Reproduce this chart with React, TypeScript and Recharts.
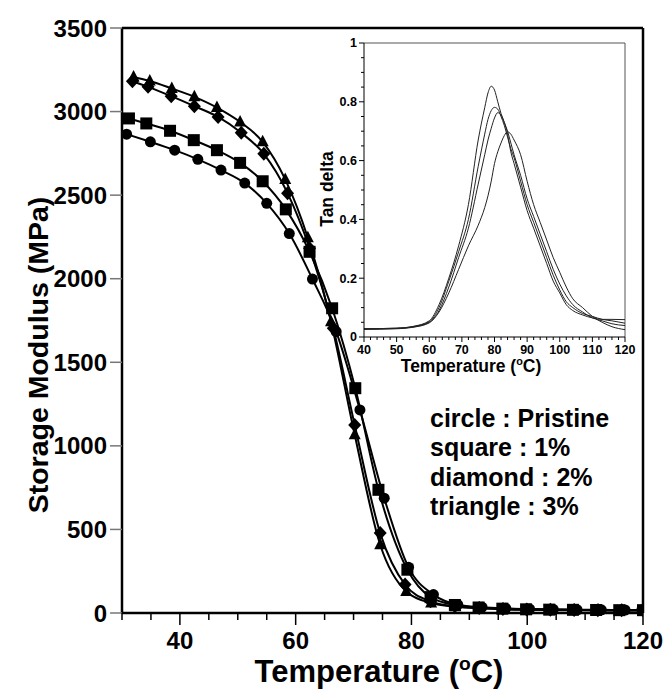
import { LineChart, Line, XAxis, YAxis, ReferenceLine } from "recharts";

// storage modulus, one array pair per sample (temperature in C, modulus in MPa)
const circleT = [30.8, 34.9, 39.1, 43.1, 47.1, 51.2, 55.0, 58.9, 62.9, 67.0, 71.1, 75.3, 79.5, 83.8, 88.0, 92.2, 96.3, 100.4, 104.5, 108.6, 112.8, 116.9, 119.8];
const circleV = [2865, 2819, 2769, 2714, 2650, 2572, 2451, 2270, 1998, 1683, 1215, 687, 273, 110, 50, 35, 28, 24, 22, 20, 19, 18, 18];

const squareT = [31.2, 34.2, 38.3, 42.4, 46.4, 50.4, 54.3, 58.3, 62.4, 66.3, 70.3, 74.3, 79.3, 83.3, 87.5, 91.6, 95.7, 99.8, 103.8, 107.9, 111.9, 115.9, 120];
const squareV = [2959, 2929, 2885, 2829, 2769, 2693, 2583, 2415, 2161, 1823, 1345, 737, 259, 95, 48, 33, 26, 22, 20, 19, 18, 17, 17];

const diamondT = [31.8, 34.5, 38.5, 42.5, 46.6, 50.6, 54.5, 58.6, 62.4, 66.5, 70.2, 74.6, 78.9, 83.3, 87.5, 91.7, 95.8, 99.9, 104.0, 108.1, 112.2, 116.3, 120];
const diamondV = [3181, 3148, 3092, 3032, 2968, 2873, 2747, 2512, 2183, 1703, 1125, 478, 170, 70, 40, 30, 24, 21, 19, 18, 17, 17, 16];

const triangleT = [32.0, 34.8, 38.6, 42.5, 46.4, 50.4, 54.3, 58.2, 62.1, 66.1, 70.2, 74.6, 79.1, 83.4, 87.6, 91.8, 95.9, 100.0, 104.1, 108.2, 112.3, 116.4, 120];
const triangleV = [3207, 3183, 3138, 3088, 3024, 2938, 2819, 2594, 2245, 1743, 1066, 408, 129, 60, 38, 28, 22, 19, 17, 16, 16, 15, 15];

const mainXTicks = [30, 35, 40, 45, 50, 55, 60, 65, 70, 75, 80, 85, 90, 95, 100, 105, 110, 115, 120];
const mainYTicks = [0, 500, 1000, 1500, 2000, 2500, 3000, 3500];

// tan delta inset
const insetT = [40, 50, 55, 60, 63, 66, 69, 72, 75, 77, 78, 79, 80, 81, 82, 83, 84, 85, 86, 88, 90, 92, 94, 96, 98, 100, 102, 104, 107, 110, 113, 116, 120];
const tanA = [0.028, 0.030, 0.036, 0.055, 0.11, 0.20, 0.31, 0.45, 0.67, 0.78, 0.83, 0.853, 0.84, 0.80, 0.76, 0.73, 0.69, 0.63, 0.59, 0.51, 0.43, 0.37, 0.31, 0.25, 0.19, 0.15, 0.11, 0.09, 0.075, 0.065, 0.06, 0.06, 0.059];
const tanB = [0.028, 0.030, 0.035, 0.052, 0.10, 0.19, 0.29, 0.40, 0.58, 0.69, 0.74, 0.77, 0.781, 0.775, 0.75, 0.72, 0.68, 0.64, 0.61, 0.53, 0.45, 0.39, 0.33, 0.27, 0.21, 0.16, 0.12, 0.10, 0.08, 0.07, 0.06, 0.055, 0.047];
const tanC = [0.027, 0.029, 0.034, 0.050, 0.09, 0.17, 0.27, 0.37, 0.52, 0.62, 0.67, 0.71, 0.745, 0.763, 0.755, 0.73, 0.70, 0.66, 0.62, 0.55, 0.47, 0.41, 0.35, 0.29, 0.23, 0.18, 0.14, 0.11, 0.085, 0.065, 0.055, 0.045, 0.039];
const tanD = [0.026, 0.028, 0.033, 0.048, 0.085, 0.15, 0.23, 0.31, 0.38, 0.44, 0.48, 0.53, 0.59, 0.63, 0.66, 0.685, 0.698, 0.69, 0.67, 0.62, 0.53, 0.45, 0.39, 0.33, 0.27, 0.22, 0.17, 0.13, 0.10, 0.07, 0.05, 0.035, 0.025];

const insetXTicks = [40, 42, 44, 46, 48, 50, 52, 54, 56, 58, 60, 62, 64, 66, 68, 70, 72, 74, 76, 78, 80, 82, 84, 86, 88, 90, 92, 94, 96, 98, 100, 102, 104, 106, 108, 110, 112, 114, 116, 118, 120];
const insetYTicks = [0, 0.05, 0.1, 0.15, 0.2, 0.25, 0.3, 0.35, 0.4, 0.45, 0.5, 0.55, 0.6, 0.65, 0.7, 0.75, 0.8, 0.85, 0.9, 0.95, 1];

const legendLines = ["circle : Pristine", "square : 1%", "diamond : 2%", "triangle : 3%"];

const FONT = "'Liberation Sans', Arial, sans-serif";

// merge series into one table keyed by temperature
const seriesList: [string, number[], number[]][] = [
  ["circle", circleT, circleV],
  ["square", squareT, squareV],
  ["diamond", diamondT, diamondV],
  ["triangle", triangleT, triangleV],
];
const mainData = (() => {
  const rows: any[] = [];
  seriesList.forEach(([key, ts, vs]) => {
    ts.forEach((t, i) => rows.push({ t, [key]: vs[i] }));
  });
  return rows.sort((a, b) => a.t - b.t);
})();

const insetData = insetT.map((t, i) => ({ t, a: tanA[i], b: tanB[i], c: tanC[i], d: tanD[i] }));

const makeDot = (shape: string) => (props: any) => {
  const { cx, cy, index } = props;
  if (cx == null || cy == null || props.value == null) return <g key={index} />;
  if (shape === "circle") return <circle key={index} cx={cx} cy={cy} r={5.5} fill="#000" />;
  if (shape === "square") return <rect key={index} x={cx - 6} y={cy - 6} width={12} height={12} fill="#000" />;
  if (shape === "diamond")
    return <polygon key={index} points={`${cx},${cy - 7} ${cx + 6.5},${cy} ${cx},${cy + 7} ${cx - 6.5},${cy}`} fill="#000" />;
  return <polygon key={index} points={`${cx},${cy - 7} ${cx + 6},${cy + 4.5} ${cx - 6},${cy + 4.5}`} fill="#000" />;
};

const MainXTick = (props: any) => {
  const { x, y, payload } = props;
  const major = payload.value % 20 === 0;
  return (
    <g>
      <line x1={x} x2={x} y1={y} y2={y + (major ? 12 : 7)} stroke="#000" strokeWidth={1.5} />
      {major && (
        <text x={x} y={y + 36} textAnchor="middle" fontSize={24} fontWeight="bold" fill="#000">
          {payload.value}
        </text>
      )}
    </g>
  );
};

const InsetXTick = (props: any) => {
  const { x, y, payload } = props;
  const major = payload.value % 10 === 0;
  return (
    <g>
      <line x1={x} x2={x} y1={y} y2={y + (major ? 5 : 3)} stroke="#000" strokeWidth={1} />
      {major && (
        <text x={x} y={y + 17} textAnchor="middle" fontSize={12.5} fontWeight="bold" fill="#000">
          {payload.value}
        </text>
      )}
    </g>
  );
};

const InsetYTick = (props: any) => {
  const { x, y, payload } = props;
  const major = Math.round(payload.value * 100) % 20 === 0;
  return (
    <g>
      <line x1={x - (major ? 5 : 3)} x2={x} y1={y} y2={y} stroke="#000" strokeWidth={1} />
      {major && (
        <text x={x - 7} y={y} dy="0.35em" textAnchor="end" fontSize={12.5} fontWeight="bold" fill="#000">
          {Math.round(payload.value * 10) / 10}
        </text>
      )}
    </g>
  );
};

const tempTitle = (x: number, y: number, size: number) => (
  <text x={x} y={y} textAnchor="middle" fontSize={size} fontWeight="bold" fill="#000">
    Temperature (
    <tspan fontSize={size * 0.62} dy={-size * 0.4}>o</tspan>
    <tspan dy={size * 0.4}>C)</tspan>
  </text>
);

function MainChart() {
  return (
    <LineChart width={667} height={689} data={mainData} margin={{ top: 28, right: 24, left: 0, bottom: 0 }}>
      <XAxis
        dataKey="t"
        type="number"
        domain={[30, 120]}
        ticks={mainXTicks}
        interval={0}
        height={76}
        tickSize={0}
        tickMargin={0}
        tick={<MainXTick />}
        axisLine={{ stroke: "#000", strokeWidth: 2.5 }}
        allowDataOverflow
        label={{ content: () => tempTitle(379, 682, 31) }}
      />
      <YAxis
        type="number"
        domain={[0, 3500]}
        ticks={mainYTicks}
        interval={0}
        width={122}
        tickSize={12}
        tickMargin={3}
        tickLine={{ stroke: "#777", strokeWidth: 1.5 }}
        axisLine={{ stroke: "#000", strokeWidth: 2.5 }}
        tick={{ fontSize: 24, fontWeight: "bold", fill: "#000" }}
        label={{
          content: () => (
            <text transform="translate(48,355) rotate(-90)" textAnchor="middle" fontSize={28.5} fontWeight="bold" fill="#000">
              Storage Modulus (MPa)
            </text>
          ),
        }}
      />
      <ReferenceLine y={3500} stroke="#000" strokeWidth={2.5} />
      <ReferenceLine x={120} stroke="#000" strokeWidth={2.5} />
      {seriesList.map(([key]) => (
        <Line
          key={key}
          dataKey={key}
          type="monotone"
          stroke="#000"
          strokeWidth={2}
          connectNulls
          dot={makeDot(key)}
          activeDot={false}
          isAnimationActive={false}
        />
      ))}
    </LineChart>
  );
}

function InsetChart() {
  return (
    <LineChart width={667} height={689} data={insetData} margin={{ top: 43, right: 42, left: 0, bottom: 0 }}>
      <XAxis
        dataKey="t"
        type="number"
        domain={[40, 120]}
        ticks={insetXTicks}
        interval={0}
        height={352}
        tickSize={0}
        tickMargin={0}
        tick={<InsetXTick />}
        axisLine={{ stroke: "#000", strokeWidth: 1 }}
        label={{ content: () => tempTitle(471, 372, 17.5) }}
      />
      <YAxis
        type="number"
        domain={[0, 1]}
        ticks={insetYTicks}
        interval={0}
        width={364}
        tickSize={0}
        tickMargin={0}
        tick={<InsetYTick />}
        axisLine={{ stroke: "#000", strokeWidth: 1 }}
        label={{
          content: () => (
            <text transform="translate(333,189) rotate(-90)" textAnchor="middle" fontSize={17.5} fontWeight="bold" fill="#000">
              Tan delta
            </text>
          ),
        }}
      />
      <ReferenceLine y={1} stroke="#555" strokeWidth={1} />
      <ReferenceLine x={120} stroke="#555" strokeWidth={1} />
      {["a", "b", "c", "d"].map((k) => (
        <Line key={k} dataKey={k} type="monotone" stroke="#222" strokeWidth={1} dot={false} activeDot={false} isAnimationActive={false} />
      ))}
    </LineChart>
  );
}

export default function App() {
  return (
    <div style={{ position: "absolute", left: 0, top: 0, width: 667, height: 689, background: "#fff", fontFamily: FONT }}>
      <div style={{ position: "absolute", left: 0, top: 0 }}>
        <MainChart />
      </div>
      <div style={{ position: "absolute", left: 0, top: 0 }}>
        <InsetChart />
      </div>
      <svg width={667} height={689} style={{ position: "absolute", left: 0, top: 0, pointerEvents: "none" }}>
        {legendLines.map((s, i) => (
          <text key={s} x={430} y={427 + i * 29.3} fontSize={25} fontWeight="bold" fill="#000" fontFamily={FONT}>
            {s}
          </text>
        ))}
      </svg>
    </div>
  );
}
